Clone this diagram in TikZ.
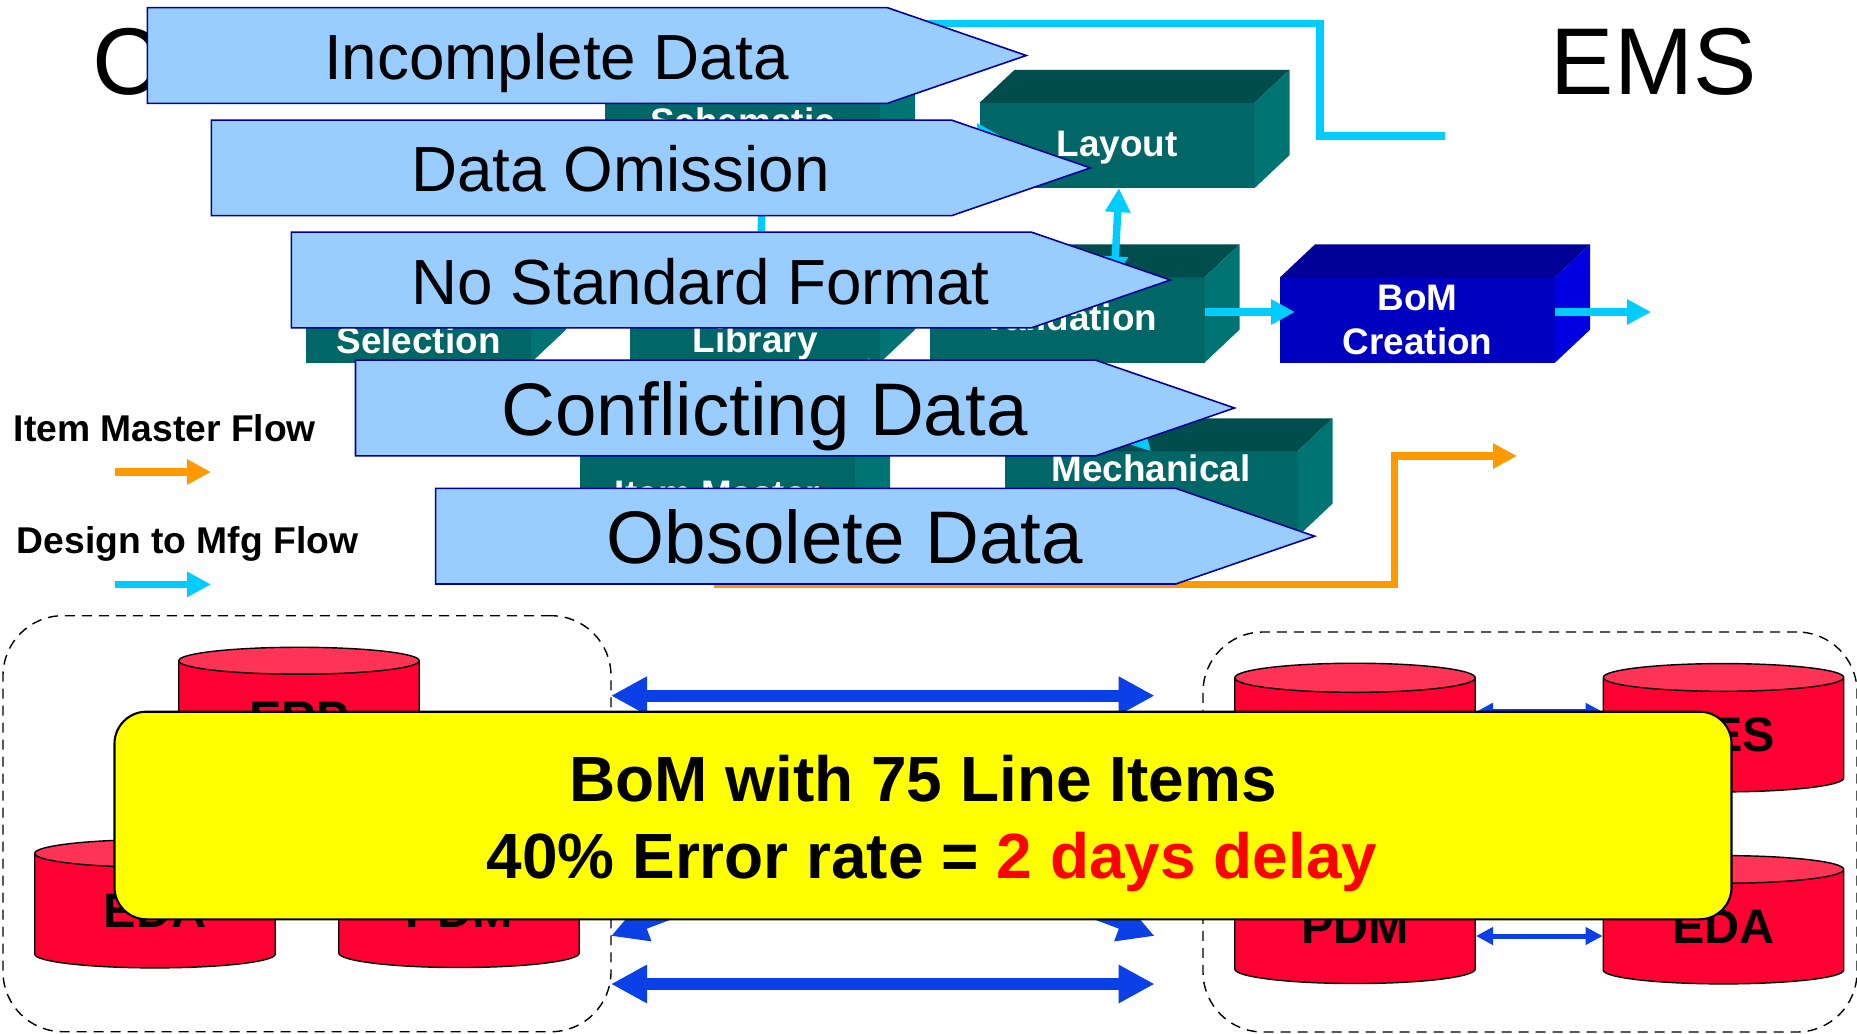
\documentclass[tikz,border=0pt]{standalone}
\usepackage{fontspec}
\setmainfont{Liberation Sans}
\usetikzlibrary{arrows.meta,shapes.symbols,shapes.geometric}
\definecolor{tealfront}{HTML}{006666}
\definecolor{tealtop}{HTML}{004D4D}
\definecolor{tealside}{HTML}{007373}
\definecolor{bluefront}{HTML}{0000C0}
\definecolor{bluetop}{HTML}{000099}
\definecolor{blueside}{HTML}{0000E0}
\definecolor{flagfill}{HTML}{99CCFF}
\definecolor{flagline}{HTML}{000099}
\definecolor{flowcyan}{HTML}{00CCFF}
\definecolor{floworange}{HTML}{FF9900}
\definecolor{linkblue}{HTML}{0B3FE8}
\definecolor{dbbody}{HTML}{FF0033}
\definecolor{dbend}{HTML}{FF3355}
\definecolor{boxyellow}{RGB}{255,255,0}
\definecolor{delayred}{RGB}{255,0,0}
\tikzstyle{boxtext} = [text=white, inner sep=0pt, font=\fontsize{10.5}{11}\selectfont\bfseries]
\tikzstyle{block} = [rectangle, inner sep=0pt, outer sep=0pt, text=white,
    minimum width=2.75cm, minimum height=.853cm, align=center,
    font=\fontsize{10.5}{11}\selectfont\bfseries]
\tikzstyle{tealblock} = [block, fill=tealfront]
\tikzstyle{blueblock} = [block, fill=bluefront]
\tikzstyle{flag} = [signal, signal to=east, signal pointer angle=38, anchor=west,
    draw=flagline, fill=flagfill, line width=.45pt, inner sep=0pt,
    minimum width=8.79cm, minimum height=.956cm]
\tikzstyle{flagtext} = [anchor=base, xshift=4.1cm, yshift=-.24cm,
    font=\fontsize{18.15}{22}\selectfont]
\tikzstyle{bigflagtext} = [anchor=base, xshift=4.1cm, yshift=-.27cm,
    font=\fontsize{21.2}{25}\selectfont]
\tikzstyle{db} = [draw, cylinder, shape border rotate=90, aspect=.27, line width=.4pt,
    cylinder uses custom fill, cylinder end fill=dbend, cylinder body fill=dbbody,
    minimum width=2.405cm, minimum height=1.283cm, inner sep=0pt,
    font=\fontsize{13.8}{16}\selectfont\bfseries]
\tikzstyle{cyanflow} = [draw=flowcyan, line width=.075cm,
    -{Triangle[length=.24cm, width=.24cm]}]
\tikzstyle{cyanboth} = [draw=flowcyan, line width=.075cm,
    {Triangle[length=.24cm, width=.24cm]}-{Triangle[length=.24cm, width=.24cm]}]
\tikzstyle{orangeflow} = [draw=floworange, line width=.075cm,
    -{Triangle[length=.24cm, width=.24cm]}]
\tikzstyle{bigLink} = [draw=linkblue, line width=.117cm,
    {Triangle[length=.36cm, width=.36cm]}-{Triangle[length=.36cm, width=.36cm]}]
\tikzstyle{smallLink} = [draw=linkblue, line width=.05cm,
    {Triangle[length=.17cm, width=.17cm]}-{Triangle[length=.17cm, width=.17cm]}]
\tikzstyle{zone} = [draw, dashed, dash pattern=on .1cm off .07cm, line width=.4pt,
    rectangle, rounded corners=.6cm, inner sep=0pt, minimum height=4.16cm]
\tikzstyle{legend} = [anchor=west, inner sep=0pt, font=\fontsize{10.6}{13}\selectfont\bfseries]
\newcommand{\boxfaces}[3]{%
    \fill [#2] (#1.north west) -- ([shift={(.35,.33)}]#1.north west)
        -- ([shift={(.35,.33)}]#1.north east) -- (#1.north east) -- cycle;
    \fill [#3] (#1.north east) -- ([shift={(.35,.33)}]#1.north east)
        -- ([shift={(.35,.33)}]#1.south east) -- (#1.south east) -- cycle;}

\begin{document}
\begin{tikzpicture}[node distance=2cm]
    \useasboundingbox (0,0) rectangle (18.57,-10.34);
    \node [anchor=base, font=\fontsize{27}{30}\selectfont] (oemtitle) at (1.27,-.945) {C};
    \node [anchor=base, font=\fontsize{27}{30}\selectfont] (emstitle) at (16.535,-.945) {EMS};

    \node [tealblock,
        label={[boxtext, yshift=-.02cm]center:Layout}] (layout) at (11.17,-1.455) {};
    \node [tealblock, left of=layout, node distance=3.745cm,
        label={[boxtext, yshift=.24cm]center:Schematic}] (schematic) {};
    \node [tealblock,
        label={[boxtext, xshift=.03cm, yshift=.03cm]center:Validation}] (validation) at (10.67,-3.2) {};
    \node [blueblock, right of=validation, node distance=3.505cm] (bom) {BoM\\[.06cm]Creation};
    \node [tealblock, left of=validation, node distance=3.12cm, minimum width=2.5cm,
        label={[boxtext, yshift=-.23cm]center:Library}] (library) {};
    \node [tealblock, left of=library, node distance=3.365cm, minimum width=2.25cm,
        label={[boxtext, yshift=-.205cm]center:Selection}] (selection) {};
    \node [tealblock, minimum width=2.93cm,
        label={[boxtext, yshift=.26cm]center:Mechanical}] (mechanical) at (11.51,-4.94) {};
    \node [tealblock, left of=mechanical, node distance=4.335cm] (itemmaster) {Item Master};
    \boxfaces{layout}{tealtop}{tealside}
    \boxfaces{schematic}{tealtop}{tealside}
    \boxfaces{validation}{tealtop}{tealside}
    \boxfaces{bom}{bluetop}{blueside}
    \boxfaces{library}{tealtop}{tealside}
    \boxfaces{selection}{tealtop}{tealside}
    \boxfaces{mechanical}{tealtop}{tealside}
    \boxfaces{itemmaster}{tealtop}{tealside}

    \coordinate (bomout) at (16.51,-3.12);
    \coordinate (bomin) at (12.95,-3.12);
    \coordinate (cyanend) at (14.45,-1.36);
    \coordinate (cyancorner) at (13.2,-.237);
    \coordinate (orangecorner) at (13.945,-5.845);
    \coordinate (orangeend) at (15.17,-4.56);
    \draw [draw=flowcyan, line width=.075cm] (schematic.north) |- (cyancorner) |- (cyanend);
    \draw [orangeflow] (itemmaster.south) |- (orangecorner) |- (orangeend);
    \draw [cyanflow] (schematic.east |- 0,-1.36) -- (10.01,-1.36);
    \draw [cyanboth] ([xshift=.2cm]schematic.south) -- ([xshift=.05cm]library.north);
    \draw [cyanboth] ([xshift=.02cm]layout.south) -- ([xshift=.47cm,yshift=-.03cm]validation.north);
    \draw [cyanboth] (8.69,-3.57) -- (itemmaster.north east);
    \draw [cyanboth] (validation.south) -- (mechanical.north);
    \draw [cyanflow] (validation.east |- 0,-3.12) -- (bomin);
    \draw [cyanflow] (bom.east |- 0,-3.12) -- (bomout);

    \node [flag] (incomplete) at (1.465,-.555) {};
    \node [flag] (omission) at (2.106,-1.679) {};
    \node [flag] (noformat) at (2.906,-2.8) {};
    \node [flag] (conflicting) at (3.547,-4.08) {};
    \node [flag] (obsolete) at (4.348,-5.362) {};
    \node [flagtext] (incompletetext) at (incomplete.west) {Incomplete Data};
    \node [flagtext] (omissiontext) at (omission.west) {Data Omission};
    \node [flagtext] (noformattext) at (noformat.west) {No Standard Format};
    \node [bigflagtext] (conflictingtext) at (conflicting.west) {Conflicting Data};
    \node [bigflagtext] (obsoletetext) at (obsolete.west) {Obsolete Data};

    \node [legend] (itemlegend) at (.13,-4.28) {Item Master Flow};
    \node [legend] (designlegend) at (.16,-5.435) {Design to Mfg Flow};
    \coordinate (itemfrom) at (1.15,-4.72);
    \coordinate (itemto) at (2.11,-4.72);
    \coordinate (designfrom) at (1.15,-5.844);
    \coordinate (designto) at (2.11,-5.844);
    \draw [orangeflow] (itemfrom) -- (itemto);
    \draw [cyanflow] (designfrom) -- (designto);

    \node [zone, minimum width=6.08cm] (leftzone) at (3.07,-8.237) {};
    \node [zone, minimum width=6.54cm, minimum height=4cm] (rightzone) at (15.3,-8.32) {};
    \node [db] (leftpdm) at (4.59,-9.11) {PDM};
    \node [db, left of=leftpdm, node distance=3.04cm] (lefteda) {EDA};
    \node [db] (lefterp) at (2.99,-7.185) {ERP};
    \node [db] (rightdb) at (13.55,-7.35) {\phantom{PDM}};
    \node [db, right of=rightdb, node distance=3.685cm] (rightes) {\hspace{.38cm}ES};
    \node [db, below of=rightdb, node distance=1.92cm] (rightpdm) {PDM};
    \node [db, right of=rightpdm, node distance=3.685cm] (righteda) {EDA};

    \coordinate (leftzoneup) at (6.11,-6.957);
    \coordinate (rightzoneup) at (11.546,-6.957);
    \coordinate (leftzonedown) at (6.11,-9.84);
    \coordinate (rightzonedown) at (11.546,-9.84);
    \draw [bigLink] (leftzoneup) -- (rightzoneup);
    \draw [bigLink] (leftzonedown) -- (rightzonedown);
    \draw [bigLink] (6.11,-9.36) -- (11.546,-7.3);
    \draw [bigLink] (6.11,-7.3) -- (11.546,-9.36);
    \draw [smallLink] (rightdb.east |- 0,-7.118) -- (rightes.west |- 0,-7.118);
    \draw [smallLink] (rightpdm.east |- 0,-9.36) -- (righteda.west |- 0,-9.36);

    \node [draw, fill=boxyellow, rectangle, rounded corners=.32cm, line width=.6pt,
        minimum width=16.17cm, minimum height=2.076cm] (errorbox) at (9.23,-8.155) {};
    \node [below of=errorbox, node distance=.08cm, align=center,
        font=\fontsize{18.2}{21.7}\selectfont\bfseries] (errortext)
        {BoM with 75 Line Items\\\hspace{.18cm}40\% Error rate = \textcolor{delayred}{2 days delay}};
\end{tikzpicture}
\end{document}
